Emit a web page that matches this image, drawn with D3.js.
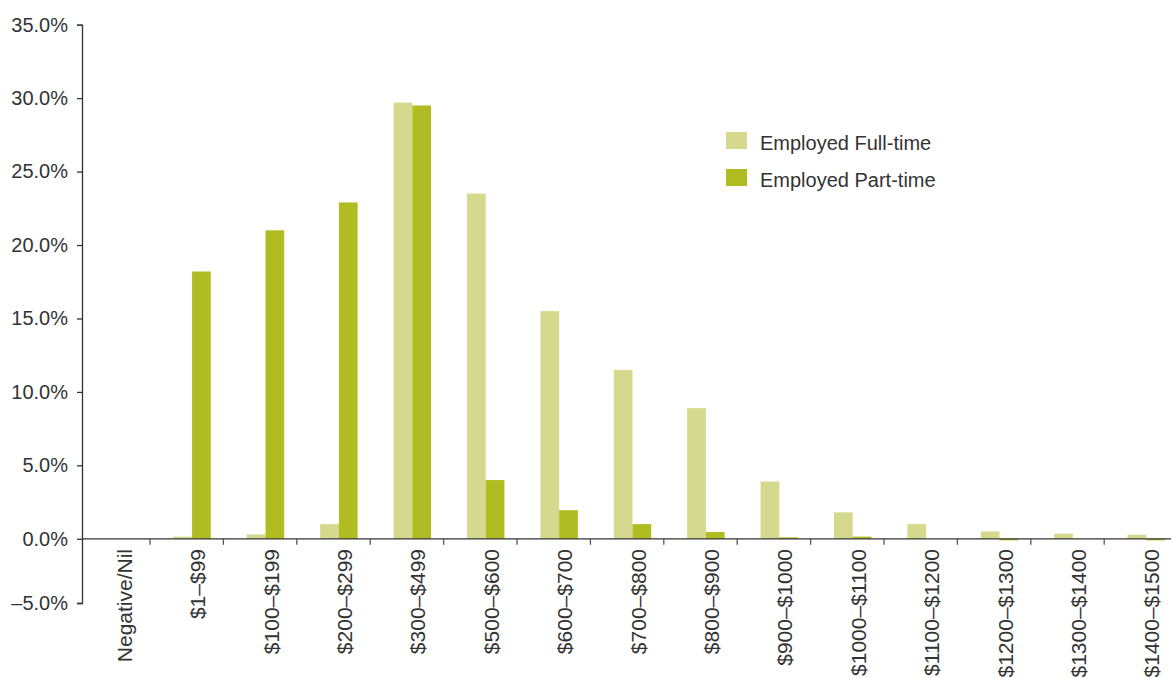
<!DOCTYPE html>
<html>
<head>
<meta charset="utf-8">
<script src="https://cdn.jsdelivr.net/npm/d3@7"></script>
<style>
  html, body { margin: 0; padding: 0; background: #fff; }
  svg { display: block; }
  text { font-family: "Liberation Sans", Arial, Helvetica, sans-serif; fill: #333; }
</style>
</head>
<body>
<svg id="chart" width="1171" height="678"></svg>
<script>
const categories = ["Negative/Nil", "$1–$99", "$100–$199", "$200–$299", "$300–$499", "$500–$600",
  "$600–$700", "$700–$800", "$800–$900", "$900–$1000", "$1000–$1100", "$1100–$1200",
  "$1200–$1300", "$1300–$1400", "$1400–$1500"];
const seriesNames = ["Employed Full-time", "Employed Part-time"];
const fullTime = [0, 0.15, 0.3, 1.0, 29.7, 23.5, 15.5, 11.5, 8.9, 3.9, 1.8, 1.0, 0.5, 0.35, 0.28];
const partTime = [0, 18.2, 21.0, 22.9, 29.5, 4.0, 1.95, 1.0, 0.46, 0.1, 0.15, 0, -0.12, 0, -0.12];
const yTicks = [-5, 0, 5, 10, 15, 20, 25, 30, 35];
const colors = ["#d4d98e", "#b0bd22"];

const svg = d3.select("#chart");
const axisX = 82;

const x = d3.scaleBand().domain(categories).range([axisX, 1183])
  .paddingInner(0.49).paddingOuter(0.245);
const x1 = d3.scaleBand().domain(seriesNames).range([0, x.bandwidth()]);
const y = d3.scaleLinear().domain([-5, 0, 35]).range([603, 538.8, 24.7]);

const data = categories.map((c, i) => ({ cat: c, vals: [fullTime[i], partTime[i]] }));

// bars
const g = svg.append("g");
data.forEach(d => {
  d.vals.forEach((v, si) => {
    if (v === 0) return;
    g.append("rect")
      .attr("x", x(d.cat) + x1(seriesNames[si]))
      .attr("width", x1.bandwidth())
      .attr("y", y(Math.max(0, v)))
      .attr("height", Math.abs(y(v) - y(0)))
      .attr("fill", colors[si]);
  });
});

// y axis
const yAxis = d3.axisLeft(y).tickValues(yTicks).tickSize(5).tickPadding(9)
  .tickFormat(d => (d < 0 ? "\u2013" + Math.abs(d).toFixed(1) : d.toFixed(1)) + "%");
const yg = svg.append("g").attr("transform", `translate(${axisX},0)`).call(yAxis);
yg.select(".domain").attr("stroke", "#333").attr("stroke-width", 1.3);
yg.selectAll(".tick line").attr("stroke", "#333").attr("stroke-width", 1.3);
yg.selectAll(".tick text").attr("font-size", 20).attr("fill", "#404040")
  .attr("font-family", "Liberation Sans, Arial, sans-serif");

// x axis line at zero
svg.append("line").attr("x1", axisX).attr("x2", 1171)
  .attr("y1", y(0)).attr("y2", y(0)).attr("stroke", "#333").attr("stroke-width", 1.3);

// category separator ticks
const tickShift = -5.4;
for (let k = 1; k < categories.length; k++) {
  const tx = x.range()[0] + x.step() * k + tickShift;
  svg.append("line").attr("x1", tx).attr("x2", tx)
    .attr("y1", y(0)).attr("y2", y(0) + 6)
    .attr("stroke", "#555").attr("stroke-width", 1.3);
}

// category labels
categories.forEach(c => {
  const cx = x(c) + x.bandwidth() / 2;
  svg.append("text")
    .attr("transform", `translate(${cx},549) rotate(-90)`)
    .attr("text-anchor", "end")
    .attr("dy", 13)
    .attr("font-size", 21)
    .attr("fill", "#404040")
    .text(c);
});

// legend
const legend = svg.append("g").attr("transform", "translate(726,132)");
seriesNames.forEach((s, i) => {
  const row = legend.append("g").attr("transform", `translate(0,${i * 37})`);
  row.append("rect").attr("width", 21).attr("height", 17).attr("fill", colors[i]);
  row.append("text").attr("x", 34).attr("y", 11).attr("dy", "0.35em")
    .attr("font-size", 20).attr("fill", "#404040").text(s);
});
</script>
</body>
</html>
